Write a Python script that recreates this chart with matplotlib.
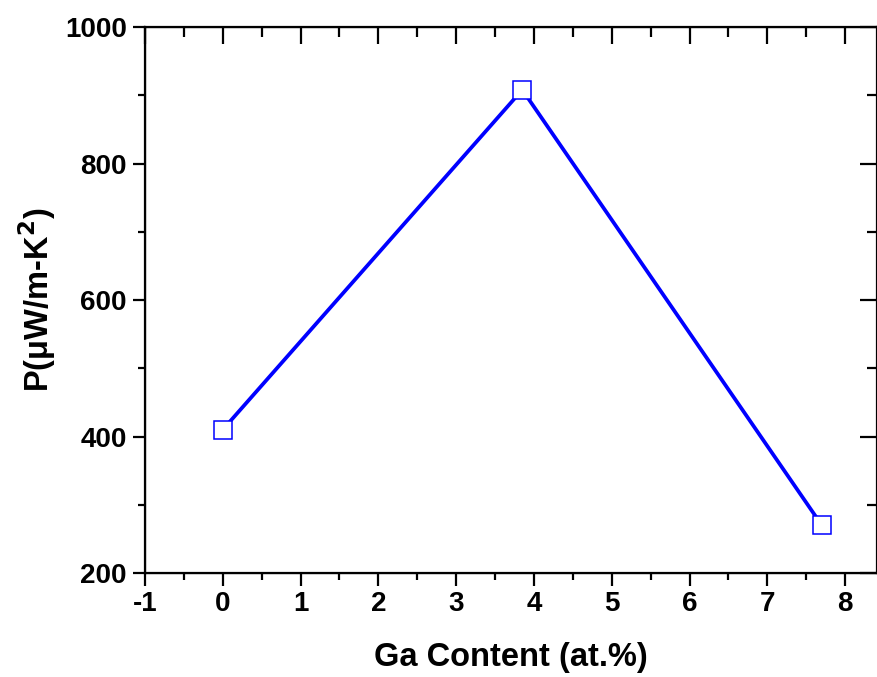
import numpy as np
import matplotlib
matplotlib.use('Agg')
import matplotlib.pyplot as plt

plt.rcParams['font.family'] = ['Liberation Sans', 'DejaVu Sans']
plt.rcParams['font.weight'] = 'bold'
plt.rcParams['mathtext.default'] = 'bf'
plt.rcParams['axes.unicode_minus'] = False

# Ga content (at.%) and power factor (uW/m-K^2)
ga_content = [0.0, 3.85, 7.7]
power_factor = [410, 908, 270]

xticks = [-1, 0, 1, 2, 3, 4, 5, 6, 7, 8]
yticks = [200, 400, 600, 800, 1000]

fig = plt.figure(figsize=(8.78, 6.77), dpi=100)
ax = fig.add_axes([0.1651, 0.1536, 0.8338, 0.8065])

ax.plot(ga_content, power_factor, color='#0000ff', lw=2.7, marker='s',
        markersize=13.5, markerfacecolor='white', markeredgecolor='#0000ff',
        markeredgewidth=1.1, zorder=3)

ax.set_xlim(-1, 8.41)
ax.set_ylim(200, 1000)
ax.set_xticks(xticks)
ax.set_yticks(yticks)
ax.set_xticks(np.arange(-0.5, 8.4, 1), minor=True)
ax.set_yticks(np.arange(300, 1000, 200), minor=True)

for s in ax.spines.values():
    s.set_linewidth(1.6)

ax.tick_params(which='major', direction='out', length=9, width=1.6,
               labelsize=20, pad=4)
ax.tick_params(which='minor', direction='out', length=5, width=1.6)

# mirrored ticks on top and right, pointing inwards
axt = ax.twiny()
axt.set_xlim(ax.get_xlim())
axt.set_xticks(xticks)
axt.set_xticks(np.arange(-0.5, 8.4, 1), minor=True)
axt.tick_params(which='major', direction='in', length=12, width=1.6, labeltop=False)
axt.tick_params(which='minor', direction='in', length=7, width=1.6)
axr = ax.twinx()
axr.set_ylim(ax.get_ylim())
axr.set_yticks(yticks)
axr.set_yticks(np.arange(300, 1000, 200), minor=True)
axr.tick_params(which='major', direction='in', length=12, width=1.6, labelright=False)
axr.tick_params(which='minor', direction='in', length=7, width=1.6)

ax.set_xlabel('Ga Content (at.%)', fontsize=23.5, fontweight='bold', labelpad=18)
ax.set_ylabel(r'P($\mathregular{\mu}$W/m-K$^{2}$)', fontsize=23.5,
              fontweight='bold', labelpad=5)

fig.savefig('out.png', dpi=100)
